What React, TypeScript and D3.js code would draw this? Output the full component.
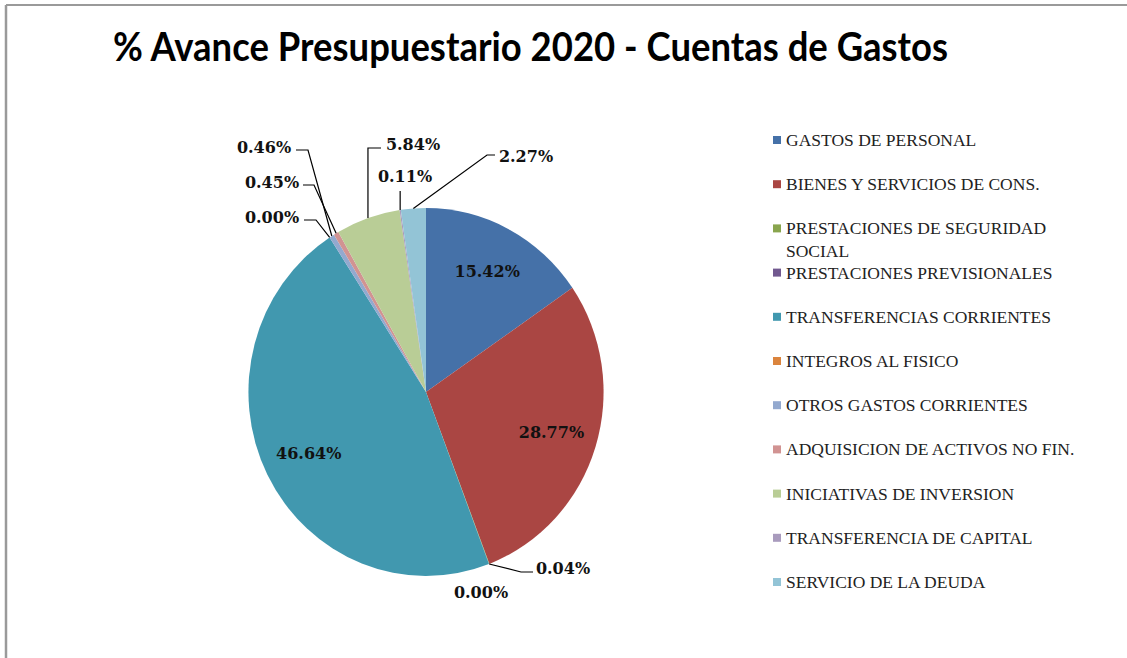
import React from 'react';
import * as d3 from 'd3';

// chart data
const categories = [
  'GASTOS DE PERSONAL',
  'BIENES Y SERVICIOS DE CONS.',
  'PRESTACIONES DE SEGURIDAD SOCIAL',
  'PRESTACIONES PREVISIONALES',
  'TRANSFERENCIAS CORRIENTES',
  'INTEGROS AL FISICO',
  'OTROS GASTOS CORRIENTES',
  'ADQUISICION DE ACTIVOS NO FIN.',
  'INICIATIVAS DE INVERSION',
  'TRANSFERENCIA DE CAPITAL',
  'SERVICIO DE LA DEUDA',
];
const values = [15.42, 28.77, 0.04, 0.0, 46.64, 0.0, 0.46, 0.45, 5.84, 0.11, 2.27];
const colors = [
  '#4571a8', '#aa4643', '#89a54e', '#71588f', '#4198af', '#db843d',
  '#93a9cf', '#d19392', '#b9cd96', '#a99bbd', '#93c4d6',
];
const title = '% Avance Presupuestario 2020 - Cuentas de Gastos';

// label layout: inside labels use the centroid, outside ones get a text spot + elbow
type LabelSpot = { inside?: boolean; x?: number; y?: number; elbow?: [number, number][]; noLine?: boolean };
const labelSpots: LabelSpot[] = [
  { inside: true },
  { inside: true },
  { x: 563, y: 568, elbow: [[521, 572], [533, 572]] },
  { x: 481, y: 592, noLine: true },
  { inside: true },
  { x: 272, y: 217, elbow: [[316, 220], [304, 220]] },
  { x: 264, y: 147, elbow: [[308, 150], [296, 150]] },
  { x: 272, y: 182, elbow: [[314, 185], [303, 185]] },
  { x: 413, y: 144, elbow: [[-1, 148], [381, 148]] },
  { x: 405, y: 176, elbow: [[-1, 191]] },
  { x: 526, y: 156, elbow: [[487, 155], [495, 155]] },
];

const W = 1127;
const H = 658;
const cx = 426;
const cy = 392;
const R = 184;
const sx = 0.965; // picture is a little squeezed sideways

const App = () => {
  const data = categories.map((c, i) => ({ name: c, value: values[i], color: colors[i] }));
  const pie = d3.pie<any>().sort(null).value(d => d.value);
  const arcs = pie(data);
  const arc = d3.arc<any>().innerRadius(0).outerRadius(R);

  const fmt = (v: number) => v.toFixed(2) + '%';
  const at = (a: number, r: number): [number, number] => [cx + Math.sin(a) * r * sx, cy - Math.cos(a) * r];

  const legendY = d3.scaleLinear().domain([0, categories.length - 1]).range([140, 582]);
  const splitName = (s: string) => {
    if (s.length <= 30) return [s];
    const k = s.lastIndexOf(' ');
    return [s.slice(0, k), s.slice(k + 1)];
  };

  const labelFont = '"DejaVu Serif", serif';

  return (
    <svg width={W} height={H} style={{ position: 'absolute', left: 0, top: 0, background: '#fff' }}>
      <line x1={6} y1={5} x2={W} y2={5} stroke="#9a9a9a" strokeWidth={2} />
      <line x1={6} y1={5} x2={6} y2={H} stroke="#9a9a9a" strokeWidth={2.5} />

      <text x={113} y={61} fontFamily="Lato, sans-serif" fontWeight="bold" fontSize={40}
        textLength={835} lengthAdjust="spacingAndGlyphs" fill="#000">{title}</text>

      <g transform={`translate(${cx},${cy}) scale(${sx},1)`}>
        {arcs.map((a, i) => (
          <path key={i} d={arc(a) || ''} fill={a.data.color} />
        ))}
      </g>

      {arcs.map((a, i) => {
        const spot = labelSpots[i];
        const mid = (a.startAngle + a.endAngle) / 2;
        if (spot.inside) {
          const [x, y] = at(mid, R * 0.74);
          return (
            <text key={i} x={x} y={y} textAnchor="middle" dominantBaseline="central"
              fontFamily={labelFont} fontWeight="bold" fontSize={16} fill="#111">{fmt(a.data.value)}</text>
          );
        }
        const edge = at(mid, R);
        const pts: [number, number][] = [edge];
        (spot.elbow || []).forEach(p => pts.push([p[0] < 0 ? edge[0] : p[0], p[1]]));
        return (
          <g key={i}>
            {!spot.noLine && (
              <path d={d3.line()(pts) || ''} fill="none" stroke="#000" strokeWidth={1.2} />
            )}
            <text x={spot.x} y={spot.y} textAnchor="middle" dominantBaseline="central"
              fontFamily={labelFont} fontWeight="bold" fontSize={16} fill="#111">{fmt(a.data.value)}</text>
          </g>
        );
      })}

      {data.map((d, i) => {
        const y = legendY(i);
        const lines = splitName(d.name);
        return (
          <g key={i}>
            <rect x={773} y={y - 4} width={8} height={8} fill={d.color} />
            {lines.map((l, j) => (
              <text key={j} x={786} y={y + j * 23} dominantBaseline="central"
                fontFamily='"Liberation Serif", serif' fontSize={17.5} fill="#222">{l}</text>
            ))}
          </g>
        );
      })}
    </svg>
  );
};

export default App;
